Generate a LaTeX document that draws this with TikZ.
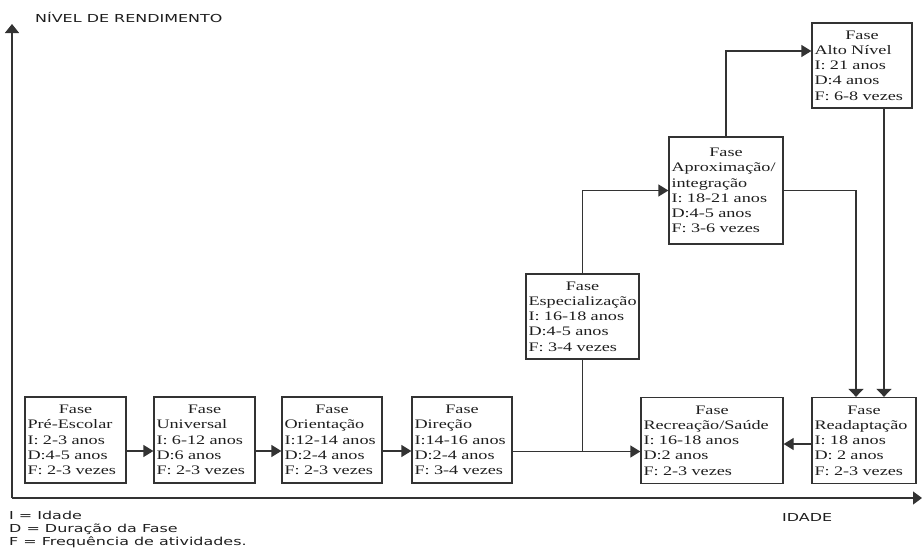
\documentclass[tikz,border=0pt]{standalone}
\usepackage{fontspec}
\usetikzlibrary{arrows.meta}
\newfontfamily\boxfont[FakeStretch=1.4]{Liberation Serif}
\newfontfamily\axisfont[FakeStretch=1.45]{DejaVu Sans}
\definecolor{ln}{HTML}{333333}
\definecolor{tx}{HTML}{1e1e1e}
\newcommand{\fasetop}{\makebox[\hsize]{Fase}}

\begin{document}
\begin{tikzpicture}[x=1pt, y=-1pt,
    fase/.style={draw=ln, line width=1.3pt, text=tx, inner sep=2.5pt, align=left,
        minimum height=86pt, font=\boxfont\fontsize{13}{15.3}\selectfont},
    link/.style={draw=ln, line width=1.3pt},
    harr/.style={-{Triangle[length=10pt, width=12pt]}},
    varr/.style={-{Triangle[length=8pt, width=15pt]}},
    lbl/.style={text=tx, inner sep=0pt, font=\axisfont\fontsize{11}{13}\selectfont}]
			\useasboundingbox (0,0) rectangle (922,552);

			% Axes
			\coordinate (o) at (12,498);
			\coordinate (ytop) at (12,24);
			\coordinate (xend) at (922,498);
			\draw[link, -{Triangle[length=9pt, width=14pt]}] (o) -- (ytop);
			\draw[link, -{Triangle[length=9pt, width=13pt]}] (o) -- (xend);
			\node[lbl, anchor=west] (ylab) at (35,17) {NÍVEL DE RENDIMENTO};
			\node[lbl, anchor=west] (xlab) at (782,517) {IDADE};
			\node[lbl, anchor=north west, align=left] (leg) at (9,511) {I = Idade\\D = Duração da Fase\\F = Frequência de atividades.};

			% Bottom row
			\node[fase, text width=96pt] (pre) at (75.5,440) {\fasetop\\Pré-Escolar\\I: 2-3 anos\\D:4-5 anos\\F: 2-3 vezes};
			\node[fase, text width=96pt] (uni) at (204.5,440) {\fasetop\\Universal\\I: 6-12 anos\\D:6 anos\\F: 2-3 vezes};
			\node[fase, text width=95pt] (ori) at (332,440) {\fasetop\\Orientação\\I:12-14 anos\\D:2-4 anos\\F: 2-3 vezes};
			\node[fase, text width=95pt] (dir) at (462,440) {\fasetop\\Direção\\I:14-16 anos\\D:2-4 anos\\F: 3-4 vezes};
			\node[fase, text width=137pt] (rec) at (712,440.5) {\fasetop\\Recreação/Saúde\\I: 16-18 anos\\D:2 anos\\F: 2-3 vezes};
			\node[fase, text width=99pt] (rea) at (864,440.5) {\fasetop\\Readaptação\\I: 18 anos\\D: 2 anos\\F: 2-3 vezes};

			% Upper phases
			\node[fase, text width=108pt, minimum height=85pt] (esp) at (582.5,316.5) {\fasetop\\Especialização\\I: 16-18 anos\\D:4-5 anos\\F: 3-4 vezes};
			\node[fase, text width=109pt, minimum height=107pt] (apr) at (726,190.5) {\fasetop\\Aproximação/\\integração\\I: 18-21 anos\\D:4-5 anos\\F: 3-6 vezes};
			\node[fase, text width=95pt, minimum height=85pt] (alto) at (862,65.5) {\fasetop\\Alto Nível\\I: 21 anos\\D:4 anos\\F: 6-8 vezes};

			% Connectors
			\draw[link, harr] ([yshift=-11pt]pre.east) -- ([yshift=-11pt]uni.west);
			\draw[link, harr] ([yshift=-11pt]uni.east) -- ([yshift=-11pt]ori.west);
			\draw[link, harr] ([yshift=-11pt]ori.east) -- ([yshift=-11pt]dir.west);
			\coordinate (dirout) at ([yshift=-11.5pt]dir.east);
			\draw[link, harr] (dirout) -- (dirout -| rec.west);
			\draw[link] (esp.south) -- (esp.south |- dirout);
			\draw[link, harr] (esp.north) |- (apr.west);
			\draw[link, harr] (apr.north) |- ([yshift=14.5pt]alto.west);
			\draw[link, varr] (apr.east) -| ([xshift=-8pt]rea.north);
			\draw[link, varr] ([xshift=22pt]alto.south) -- ([xshift=22pt]alto.south |- rea.north);
			\draw[link, harr] ([yshift=-3.5pt]rea.west) -- ([yshift=-3.5pt]rec.east);
		\end{tikzpicture}
\end{document}
